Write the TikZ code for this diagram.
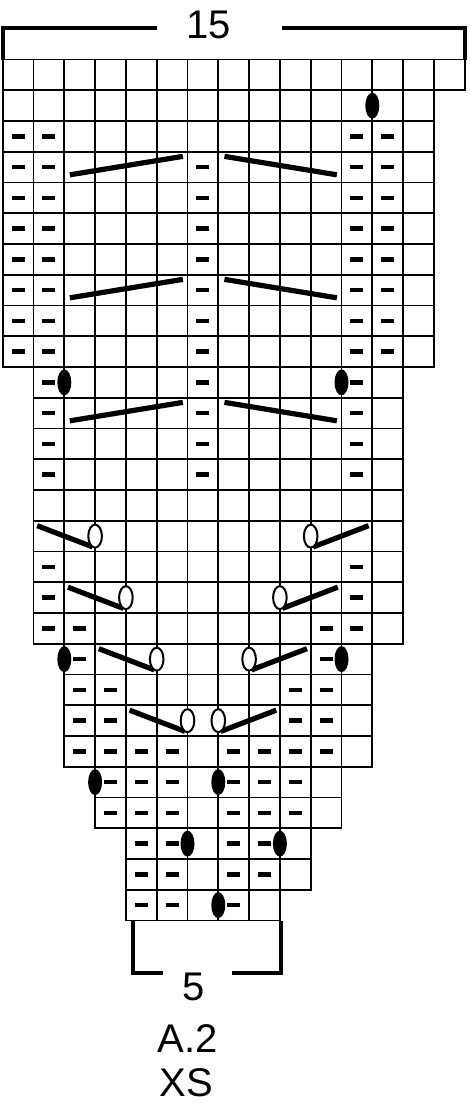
\documentclass[tikz,border=0pt]{standalone}
\usepackage{fontspec}
\setmainfont{Liberation Sans}
\tikzset{
  gridline/.style={line width=1.8pt},
  purlmark/.style={line width=4.4pt, line cap=butt},
  bracketline/.style={line width=4pt, line join=miter},
  cableline/.style={line width=5.2pt, line cap=butt},
  openoval/.style={line width=2pt, fill=white},
  lbl/.style={inner sep=0pt, font=\fontsize{40}{40}\selectfont},
}
\begin{document}
\begin{tikzpicture}[x=1pt,y=-1pt]
\useasboundingbox[fill=white] (0,0) rectangle (469,1104);
% top bracket and label
\draw[bracketline] (2.7,59.5) -- (2.7,28) -- (157,28);
\draw[bracketline] (282,28) -- (465,28) -- (465,59.5);
\node[lbl] (w15) at (208.5,25) {15};
% bottom bracket and labels
\draw[bracketline] (133,920.5) -- (133,973) -- (163,973);
\draw[bracketline] (232,973) -- (281,973) -- (281,920.5);
\node[lbl] (w5) at (194,987) {5};
\node[lbl] (chartname) at (187.5,1038.5) {A.2};
\node[lbl] (sizename) at (186,1082.5) {XS};
\begin{scope}[x=30.8pt,y=-30.75pt,shift={(2.7pt,-59.5pt)}]
  % grid cells
  \foreach \r/\a/\b in {1/0/14,2/0/13,3/0/13,4/0/13,5/0/13,6/0/13,7/0/13,8/0/13,9/0/13,10/0/13,
      11/1/12,12/1/12,13/1/12,14/1/12,15/1/12,16/1/12,17/1/12,18/1/12,19/1/12,
      20/2/11,21/2/11,22/2/11,23/2/11,24/3/10,25/3/10,26/4/9,27/4/9,28/4/8}{
    \foreach \c in {\a,...,\b}{
      \draw[gridline] (\c,\r-1) rectangle (\c+1,\r);
    }
  }
  % purl dashes
  \foreach \r/\c in {3/0,3/1,3/11,3/12,
      4/0,4/1,4/6,4/11,4/12, 5/0,5/1,5/6,5/11,5/12, 6/0,6/1,6/6,6/11,6/12,
      7/0,7/1,7/6,7/11,7/12, 8/0,8/1,8/6,8/11,8/12, 9/0,9/1,9/6,9/11,9/12,
      10/0,10/1,10/6,10/11,10/12,
      11/1,11/6,11/11, 12/1,12/6,12/11, 13/1,13/6,13/11, 14/1,14/6,14/11,
      17/1,17/11, 18/1,18/11, 19/1,19/2,19/10,19/11,
      20/2,20/10, 21/2,21/3,21/9,21/10, 22/2,22/3,22/9,22/10,
      23/2,23/3,23/4,23/5,23/7,23/8,23/9,23/10,
      24/3,24/4,24/5,24/7,24/8,24/9, 25/3,25/4,25/5,25/7,25/8,25/9,
      26/4,26/5,26/7,26/8, 27/4,27/5,27/7,27/8, 28/4,28/5,28/7}{
    \draw[purlmark] (\c+0.5,\r-0.5) ++(-6.5pt,0) -- ++(13pt,0);
  }
  % long cable lines
  \foreach \r in {4,8,12}{
    \draw[cableline] (2.18,\r-0.25) -- (5.85,\r-0.85);
    \draw[cableline] (7.2,\r-0.85) -- (10.85,\r-0.25);
  }
  % left-leaning lines with open ovals
  \foreach \r/\o in {16/3,18/4,20/5,22/6}{
    \draw[cableline] (\o-1.88,\r-0.84) -- (\o-0.08,\r-0.15);
    \draw[openoval] (\o,\r-0.5) ellipse [x radius=6.8pt, y radius=11.5pt];
  }
  \foreach \r/\o in {16/10,18/9,20/8,22/7}{
    \draw[cableline] (\o+1.88,\r-0.84) -- (\o+0.08,\r-0.15);
    \draw[openoval] (\o,\r-0.5) ellipse [x radius=6.8pt, y radius=11.5pt];
  }
  % filled bullets on grid lines
  \foreach \r/\o in {2/12,11/2,11/11,20/2,20/11,24/3,24/7,26/6,26/9,28/7}{
    \fill (\o,\r-0.5) ellipse [x radius=7pt, y radius=13pt];
  }
\end{scope}
\end{tikzpicture}
\end{document}
